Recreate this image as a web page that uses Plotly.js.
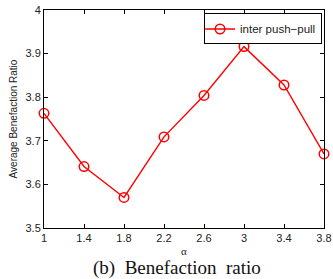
<!DOCTYPE html>
<html><head><meta charset="utf-8">
<script src="https://cdn.plot.ly/plotly-3.0.1.min.js"></script>
<style>html,body{margin:0;padding:0;background:#fff;}#c{width:333px;height:279px;}</style>
</head><body><div id="c"></div>
<script>
const alphaValues = [1, 1.4, 1.8, 2.2, 2.6, 3, 3.4, 3.8];
const benefactionRatio = [3.763, 3.641, 3.570, 3.709, 3.804, 3.916, 3.828, 3.670];
const seriesName = 'inter push\u2212pull';
const xTickVals = [1, 1.4, 1.8, 2.2, 2.6, 3, 3.4, 3.8];
const xTickText = ['1', '1.4', '1.8', '2.2', '2.6', '3', '3.4', '3.8'];
const yTickVals = [3.5, 3.6, 3.7, 3.8, 3.9, 4];
const yTickText = ['3.5', '3.6', '3.7', '3.8', '3.9', '4'];

const trace = {
  x: alphaValues, y: benefactionRatio, name: seriesName,
  type: 'scatter', mode: 'lines+markers',
  line: {color: '#ff0000', width: 1.4},
  marker: {symbol: 'circle-open', size: 9.5, color: '#ff0000', line: {width: 1.5, color: '#ff0000'}},
  cliponaxis: false
};
const axisCommon = {
  showgrid: false, zeroline: false, showline: true, mirror: 'ticks',
  linecolor: '#000', linewidth: 1, ticks: 'inside', ticklen: 4, tickcolor: '#000',
  tickfont: {family: 'Liberation Sans, Arial', size: 11, color: '#222'}
};
const layout = {
  width: 333, height: 279,
  margin: {l: 44, r: 9, t: 10, b: 51},
  paper_bgcolor: '#fff', plot_bgcolor: '#fff',
  showlegend: true,
  legend: {x: 0.993, y: 0.984, xanchor: 'right', yanchor: 'top',
    bgcolor: '#fff', bordercolor: '#000', borderwidth: 1,
    font: {family: 'Liberation Sans, Arial', size: 11.5, color: '#222'},
    itemwidth: 30, tracegroupgap: 0, indentation: -5},
  xaxis: Object.assign({}, axisCommon, {
    range: [1, 3.8], tickmode: 'array', tickvals: xTickVals, ticktext: xTickText,
    title: {text: '\u03b1', font: {family: 'Liberation Serif, Times New Roman', size: 11, color: '#222'}, standoff: 4}
  }),
  yaxis: Object.assign({}, axisCommon, {
    range: [3.5, 4], tickmode: 'array', tickvals: yTickVals, ticktext: yTickText,
    title: {text: 'Average Benefaction Ratio', font: {family: 'Liberation Sans, Arial', size: 10, color: '#222'}, standoff: 6}
  }),
  annotations: [{
    text: '(b)  Benefaction  ratio', xref: 'paper', yref: 'paper',
    x: 0.475, y: -0.185, xanchor: 'center', yanchor: 'middle', showarrow: false,
    font: {family: 'Liberation Serif, Times New Roman', size: 19, color: '#111'}
  }]
};
Plotly.newPlot('c', [trace], layout, {displayModeBar: false, staticPlot: true});
</script></body></html>
